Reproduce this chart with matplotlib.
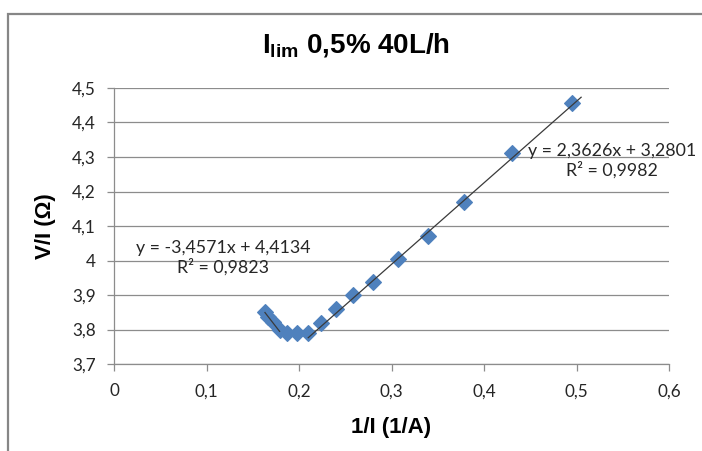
import matplotlib
matplotlib.use("Agg")
import matplotlib.pyplot as plt
from matplotlib.patches import Rectangle
from matplotlib.ticker import FuncFormatter

# Measurements: 1/I (1/A) against V/I (ohm)
x_left = [0.1632, 0.1668, 0.1722, 0.1790]
y_left = [3.852, 3.837, 3.822, 3.800]
x_mid = [0.1867, 0.1975]
y_mid = [3.791, 3.789]
x_right = [0.2100, 0.2238, 0.2400, 0.2587, 0.2797, 0.3067, 0.3390, 0.3785, 0.4300, 0.4948]
y_right = [3.790, 3.818, 3.860, 3.900, 3.937, 4.004, 4.070, 4.171, 4.312, 4.457]

# Linear fits (slope, intercept, R²)
fit_left = (-3.4571, 4.4134, 0.9823)
fit_right = (2.3626, 3.2801, 0.9982)
right_fit_end = 0.505

x_ticks = [0, 0.1, 0.2, 0.3, 0.4, 0.5, 0.6]
y_ticks = [3.7, 3.8, 3.9, 4.0, 4.1, 4.2, 4.3, 4.4, 4.5]

W, H = 702, 451
plt.rcParams["mathtext.fontset"] = "custom"
plt.rcParams["mathtext.bf"] = "Liberation Sans:bold"
plt.rcParams["mathtext.rm"] = "Liberation Sans"

fig = plt.figure(figsize=(W / 100, H / 100), dpi=100)
fig.patch.set_facecolor("white")


def fx(px):
    return px / W


def fy(py):
    return 1 - py / H


# chart-area border
fig.patches.append(Rectangle((fx(8), -0.05), 1.2, fy(14) + 0.05,
                             transform=fig.transFigure, fill=False,
                             edgecolor="#868686", linewidth=1.6, zorder=0))

ax = fig.add_axes([fx(114), fy(364), (669 - 114) / W, (364 - 88) / H])

grey = "#8c8c8c"
blue = "#4F81BD"
tick_font = ["Lato", "DejaVu Sans"]
label_font = ["Liberation Sans", "DejaVu Sans"]

for xs, ys in [(x_left, y_left), (x_mid, y_mid), (x_right, y_right)]:
    ax.plot(xs, ys, linestyle="none", marker="D", markersize=7.8,
            color=blue, markeredgecolor=blue, markeredgewidth=0.8, zorder=3)


def fit_line(fit, x0, x1):
    m, b, _ = fit
    ax.plot([x0, x1], [m * x0 + b, m * x1 + b], color="#3a3a3a",
            linewidth=0.9, zorder=4)


fit_line(fit_left, min(x_left), max(x_left))
fit_line(fit_right, min(x_right), right_fit_end)


def fmt_num(v, nd):
    return f"{v:.{nd}f}".replace(".", ",")


def eq_text(fit):
    m, b, r2 = fit
    sign = "+" if b >= 0 else "-"
    return f"y = {fmt_num(m, 4)}x {sign} {fmt_num(abs(b), 4)}\nR² = {fmt_num(r2, 4)}"


fig.text(fx(612), fy(161), eq_text(fit_right), ha="center", va="center",
         fontsize=12.8, family=tick_font, color="#262626", linespacing=1.15,
         zorder=5)
fig.text(fx(223), fy(258), eq_text(fit_left), ha="center", va="center",
         fontsize=12.8, family=tick_font, color="#262626", linespacing=1.15,
         zorder=5)

ax.set_xlim(0, 0.6)
ax.set_ylim(3.7, 4.5)
ax.set_xticks(x_ticks)
ax.set_yticks(y_ticks)


def comma_fmt(v, pos):
    s = f"{v:.1f}".replace(".", ",")
    if s.endswith(",0"):
        s = s[:-2]
    return s


ax.xaxis.set_major_formatter(FuncFormatter(comma_fmt))
ax.yaxis.set_major_formatter(FuncFormatter(comma_fmt))

ax.grid(axis="y", color=grey, linewidth=0.9)
ax.set_axisbelow(True)
for s in ["top", "right"]:
    ax.spines[s].set_visible(False)
for s in ["left", "bottom"]:
    ax.spines[s].set_color(grey)
    ax.spines[s].set_linewidth(0.9)
ax.tick_params(axis="both", direction="out", length=5, width=0.9,
               color=grey, labelsize=12.3, labelcolor="#262626")
ax.tick_params(axis="y", pad=8)
ax.tick_params(axis="x", pad=9)
for lab in ax.get_xticklabels() + ax.get_yticklabels():
    lab.set_family(tick_font)

# title with subscript
fig.text(fx(356), fy(45), r"$\mathbf{I_{lim}}$ 0,5% 40L/h", ha="center",
         va="center", fontsize=20, fontweight="bold", family=label_font,
         color="black")

fig.text(fx(391), fy(428), "1/I (1/A)", ha="center", va="center",
         fontsize=16, fontweight="bold", family=label_font, color="black")
fig.text(fx(46), fy(226), "V/I (Ω)", ha="center", va="center", rotation=90,
         fontsize=16, fontweight="bold", family=label_font, color="black")

fig.savefig("out.png", dpi=100, facecolor="white")
